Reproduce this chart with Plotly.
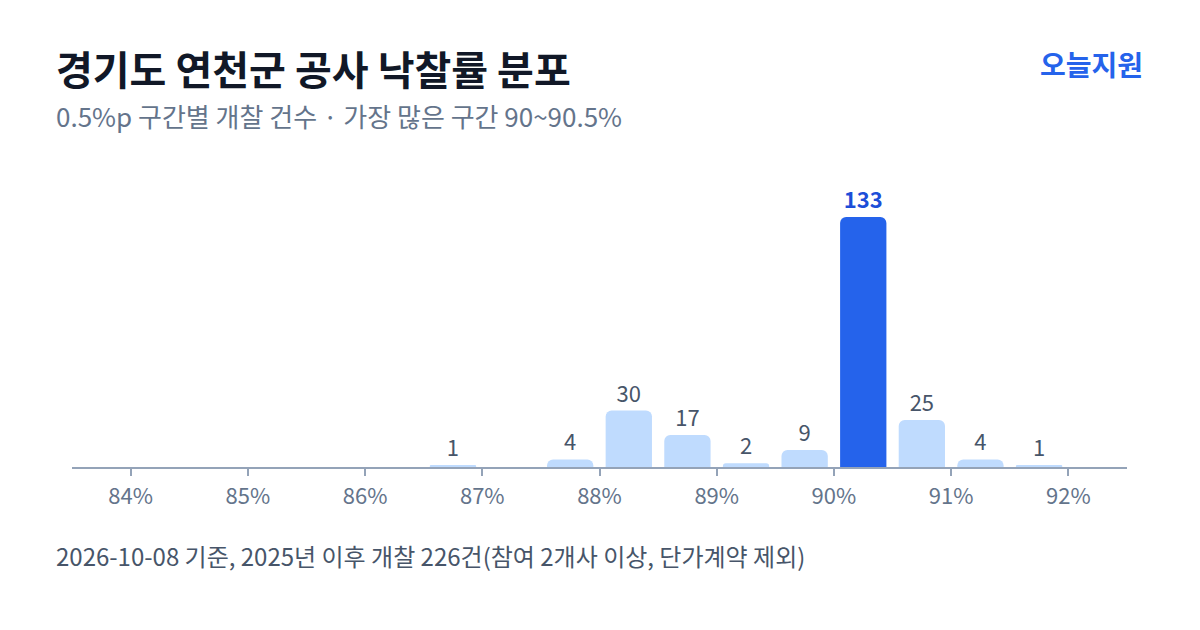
import plotly.graph_objects as go

bin_centers = [86.75, 87.75, 88.25, 88.75, 89.25, 89.75, 90.25, 90.75, 91.25, 91.75]
counts = [1, 4, 30, 17, 2, 9, 133, 25, 4, 1]
tick_vals = [84, 85, 86, 87, 88, 89, 90, 91, 92]
tick_text = [f"{v}%" for v in tick_vals]

title = "경기도 연천군 공사 낙찰률 분포"
subtitle = "0.5%p 구간별 개찰 건수 · 가장 많은 구간 90~90.5%"
brand = "오늘지원"
footer = "2026-10-08 기준, 2025년 이후 개찰 226건(참여 2개사 이상, 단가계약 제외)"

FONT = "Noto Sans CJK KR"
peak = max(counts)
bar_colors = ["#2563eb" if c == peak else "#bfdbfe" for c in counts]
text_colors = ["#1d4ed8" if c == peak else "#475569" for c in counts]
texts = [f"<b>{c}</b>" if c == peak else str(c) for c in counts]

fig = go.Figure(go.Bar(
    x=bin_centers, y=counts, width=0.395,
    marker=dict(color=bar_colors, line=dict(width=0)),
    text=texts, textposition="outside", cliponaxis=False,
    textfont=dict(family=FONT, size=22, color=text_colors),
    hoverinfo="skip",
))

fig.update_layout(
    width=1200, height=630,
    paper_bgcolor="white", plot_bgcolor="white",
    margin=dict(l=72, r=73, t=185, b=163),
    showlegend=False,
    barcornerradius=6,
    font=dict(family=FONT),
    xaxis=dict(range=[83.5, 92.5], tickvals=tick_vals, ticktext=tick_text,
               showgrid=False, zeroline=False, showline=True,
               linecolor="#94a3b8", linewidth=2,
               ticks="outside", ticklen=7, tickwidth=1.5, tickcolor="#94a3b8",
               ticklabelstandoff=2,
               tickfont=dict(family=FONT, size=22, color="#64748b")),
    yaxis=dict(range=[0, 150], visible=False),
)

plot_h = 630 - 185 - 163
plot_w = 1200 - 72 - 73
def px_x(px):
    return (px - 72) / plot_w
def px_y(py):
    return (630 - 163 - py) / plot_h

specs = [
    (f"<b>{title}</b>", 54, 68, "left", 40, "#111827"),
    (subtitle, 54, 115, "left", 26, "#64748b"),
    (f"<b>{brand}</b>", 1145, 64, "right", 28, "#2563eb"),
    (footer, 54, 555, "left", 24, "#475569"),
]
fig.update_layout(annotations=[
    dict(text=t, xref="paper", yref="paper", x=px_x(x), y=px_y(y),
         xanchor=anc, yanchor="middle", showarrow=False,
         font=dict(family=FONT, size=s, color=c))
    for t, x, y, anc, s, c in specs
])

fig.write_html("out.html")
